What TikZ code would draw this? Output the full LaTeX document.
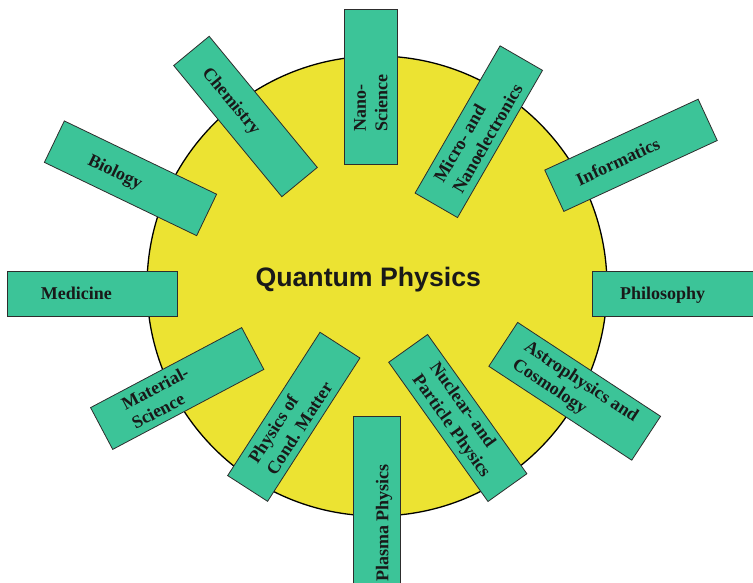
\documentclass[tikz,border=0pt]{standalone}
\usepackage{fontspec}
\setmainfont{Liberation Serif}
\newfontfamily\qpsans{Liberation Sans}
\definecolor{sun}{RGB}{236,227,50}
\definecolor{leaf}{RGB}{60,196,152}
\definecolor{edgegray}{RGB}{45,45,45}
\tikzset{
  field/.style={rectangle, draw=edgegray, line width=0.8pt, fill=leaf, inner sep=0pt},
  lbl/.style={font=\bfseries\fontsize{18}{21.5}\selectfont, inner sep=0pt, anchor=west, align=left, text=black!90},
  one/.style={text depth=0pt}
}
\begin{document}
\begin{tikzpicture}[x=1pt,y=-1pt]
\useasboundingbox (0,0) rectangle (753,583);
\clip (0,0) rectangle (753,583);
\node[circle, draw=black, line width=1.3pt, fill=sun, minimum size=460pt, inner sep=0pt] (core) at (377,286) {};
\node[font=\qpsans\bfseries\fontsize{26.7}{30}\selectfont, anchor=base, inner sep=0pt, text=black!90] (core-t) at (368.3,286) {Quantum Physics};

% Chemistry
\begin{scope}[shift={(245.5,116.5)}, rotate=-50.5, transform shape]
\node[field, minimum width=170pt, minimum height=46pt] (chem) at (0,0) {};
\node[lbl, one] (chem-t) at (-61.5,0) {Chemistry};
\end{scope}
% Biology
\begin{scope}[shift={(130.5,178.3)}, rotate=-25.7, transform shape]
\node[field, minimum width=169pt, minimum height=46pt] (bio) at (0,0) {};
\node[lbl, one] (bio-t) at (-45.7,0) {Biology};
\end{scope}
% Nano-Science
\begin{scope}[shift={(370.8,86.5)}, rotate=90, transform shape]
\node[field, minimum width=155pt, minimum height=53.7pt] (nano) at (0,0) {};
\node[lbl] (nano-t) at (-45.2,0) {Nano-\\Science};
\end{scope}
% Micro- and Nanoelectronics
\begin{scope}[shift={(478.8,131.7)}, rotate=60, transform shape]
\node[field, minimum width=170pt, minimum height=49pt] (micro) at (0,0) {};
\node[lbl] (micro-t) at (-63,0) {Micro- and\\Nanoelectronics};
\end{scope}
% Informatics
\begin{scope}[shift={(631,155.3)}, rotate=24.8, transform shape]
\node[field, minimum width=169pt, minimum height=45.5pt] (info) at (0,0) {};
\node[lbl, one] (info-t) at (-59.8,0) {Informatics};
\end{scope}
% Philosophy
\begin{scope}[shift={(677,293.5)}]
\node[field, minimum width=170pt, minimum height=45pt] (philo) at (0,0) {};
\node[lbl, one] (philo-t) at (-57,0) {Philosophy};
\end{scope}
% Medicine
\begin{scope}[shift={(92,293.5)}]
\node[field, minimum width=170pt, minimum height=45pt] (med) at (0,0) {};
\node[lbl, one] (med-t) at (-51.3,0) {Medicine};
\end{scope}
% Material-Science
\begin{scope}[shift={(177.2,388.5)}, rotate=27.9, transform shape]
\node[field, minimum width=171pt, minimum height=47.3pt] (mat) at (0,0) {};
\node[lbl] (mat-t) at (-56,0) {Material-\\Science};
\end{scope}
% Physics of Cond. Matter
\begin{scope}[shift={(293.8,416.8)}, rotate=57.2, transform shape]
\node[field, minimum width=170.5pt, minimum height=47.5pt] (cond) at (0,0) {};
\node[lbl] (cond-t) at (-60,0) {Physics of\\Cond. Matter};
\end{scope}
% Plasma Physics
\begin{scope}[shift={(376.7,516.7)}, rotate=90, transform shape]
\node[field, minimum width=200pt, minimum height=46.7pt] (plasma) at (0,0) {};
\node[lbl, one] (plasma-t) at (-65.3,5.5) {Plasma Physics};
\end{scope}
% Nuclear- and Particle Physics
\begin{scope}[shift={(457.8,418)}, rotate=-54.5, transform shape]
\node[field, minimum width=171pt, minimum height=47.8pt] (nucl) at (0,0) {};
\node[lbl] (nucl-t) at (-58,0) {Nuclear- and\\Particle Physics};
\end{scope}
% Astrophysics and Cosmology
\begin{scope}[shift={(574.7,391.3)}, rotate=-33.3, transform shape]
\node[field, minimum width=171pt, minimum height=52.5pt] (astro) at (0,0) {};
\node[lbl] (astro-t) at (-66,0) {Astrophysics and\\Cosmology};
\end{scope}
\end{tikzpicture}
\end{document}
